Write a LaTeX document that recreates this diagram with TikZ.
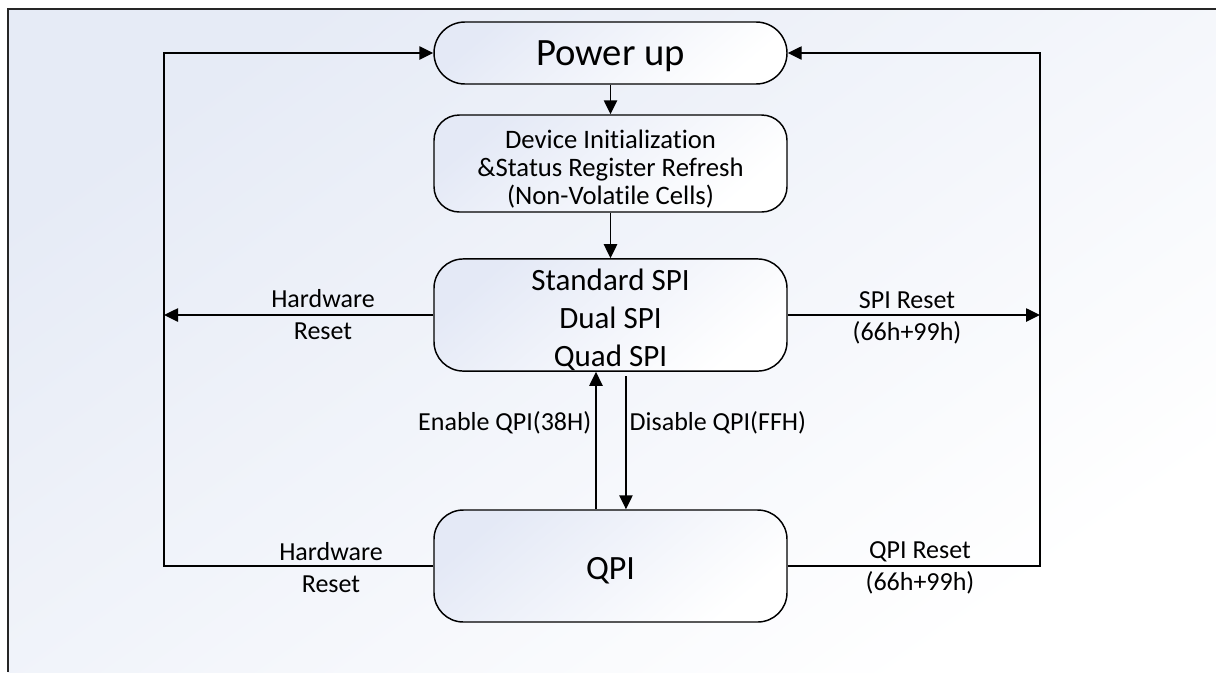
\documentclass[tikz,border=0pt]{standalone}
\usepackage{fontspec}
\setmainfont{Carlito}[RawFeature={-liga}]
\usetikzlibrary{arrows.meta,calc}
\definecolor{bgblue}{HTML}{E6EBF6}
\definecolor{boxblue}{HTML}{E4E9F6}
\begin{document}
\begin{tikzpicture}[x=0.75pt,y=-0.75pt,
  line width=1.1pt,
  tip/.style={-{Triangle[length=10.5pt,width=10pt]}},
  statebox/.style={draw=black,line width=1.1pt,minimum width=264.75pt,inner sep=0pt,align=center,
    top color=boxblue,bottom color=white,shading angle=40},
  lbl/.style={font=\fontsize{19.5pt}{24pt}\selectfont,align=center,inner sep=0pt}
]
\useasboundingbox (0,0) rectangle (1216,672);
\shade[top color=bgblue,bottom color=white,shading angle=35] (8,9) rectangle (1216,672);
\draw[line width=1.4pt,black!85] (8,672) -- (8,9) -- (1216,9);

\node[statebox,minimum height=46.5pt,rounded corners=23.2pt,font=\fontsize{29pt}{34pt}\selectfont] (pu) at (610.5,53) {\rule{0pt}{24pt}Power up};
\node[statebox,minimum height=72.75pt,rounded corners=19pt,font=\fontsize{20pt}{21pt}\selectfont] (dev) at (610.5,163.5) {\rule{0pt}{22pt}Device Initialization\\\&Status Register Refresh\\(Non-Volatile Cells)};
\node[statebox,minimum height=84pt,rounded corners=22pt,font=\fontsize{23.25pt}{28.5pt}\selectfont] (spi) at (610.5,315) {\rule{0pt}{24pt}Standard SPI\\Dual SPI\\Quad SPI};
\node[statebox,minimum height=84pt,rounded corners=22pt,font=\fontsize{25.5pt}{30pt}\selectfont] (qpi) at (610.5,566) {\rule{0pt}{24pt}QPI};

\coordinate (lt) at (164,53);
\coordinate (lm) at (164,315);
\coordinate (lb) at (164,566);
\coordinate (rt) at (1040,53);
\coordinate (rm) at (1040,315);
\coordinate (rb) at (1040,566);

\draw[tip] (pu.south) -- (dev.north);
\draw[tip] (dev.south) -- (spi.north);
\draw[tip] (qpi.west) -- (lb) -- (lt) -- (pu.west);
\draw[tip] (qpi.east) -- (rb) -- (rt) -- (pu.east);
\draw[tip] (spi.west) -- (lm);
\draw[tip] (spi.east) -- (rm);
\draw[tip] ([xshift=-10.9pt]qpi.north) -- ([xshift=-10.9pt]spi.south);
\draw[tip] ([xshift=11.6pt,yshift=-3.5pt]spi.south) -- ([xshift=11.6pt]qpi.north);

\node[lbl] (hw1) at (323,315) {Hardware\\Reset};
\node[lbl] (hw2) at (331,568) {Hardware\\Reset};
\node[lbl] (sr) at (907,318) {SPI Reset\\(66h+99h)};
\node[lbl] (qr) at (920,568) {QPI Reset\\(66h+99h)};
\node[lbl,anchor=east] (en) at (592,423) {Enable QPI(38H)};
\node[lbl,anchor=west] (dis) at (629,423) {Disable QPI(FFH)};
\end{tikzpicture}
\end{document}
